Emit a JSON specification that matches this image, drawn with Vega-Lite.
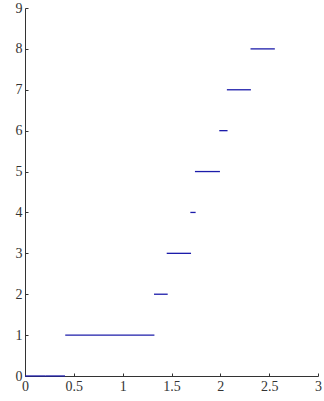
{
  "$schema": "https://vega.github.io/schema/vega-lite/v6.json",
  "width": 293,
  "height": 368,
  "autosize": {"type": "none"},
  "padding": {"left": 25, "top": 8, "right": 6, "bottom": 25},
  "background": "white",
  "config": {
    "view": {"stroke": null},
    "axis": {
      "grid": false,
      "domainColor": "#333333",
      "tickColor": "#333333",
      "labelColor": "#333333",
      "labelFont": "Liberation Sans Narrow",
      "labelFontSize": 14,
      "tickSize": -3,
      "domainWidth": 1,
      "tickWidth": 1
    }
  },
  "data": {
    "values": [
      {"x1": 0, "x2": 0.21, "y": 0},
      {"x1": 0.21, "x2": 0.41, "y": 0},
      {"x1": 0.412, "x2": 1.325, "y": 1},
      {"x1": 1.321, "x2": 1.461, "y": 2},
      {"x1": 1.451, "x2": 1.7, "y": 3},
      {"x1": 1.693, "x2": 1.747, "y": 4},
      {"x1": 1.74, "x2": 1.996, "y": 5},
      {"x1": 1.989, "x2": 2.074, "y": 6},
      {"x1": 2.067, "x2": 2.313, "y": 7},
      {"x1": 2.309, "x2": 2.558, "y": 8}
    ]
  },
  "mark": {"type": "rule", "color": "#1c1caa", "strokeWidth": 1.3},
  "encoding": {
    "x": {
      "field": "x1",
      "type": "quantitative",
      "scale": {"domain": [0, 3], "nice": false, "zero": false},
      "axis": {"title": null, "values": [0, 0.5, 1, 1.5, 2, 2.5, 3], "format": "~g", "labelPadding": 6, "labelFlush": false, "labelOverlap": false}
    },
    "x2": {"field": "x2"},
    "y": {
      "field": "y",
      "type": "quantitative",
      "scale": {"domain": [0, 9], "nice": false},
      "axis": {"title": null, "values": [0, 1, 2, 3, 4, 5, 6, 7, 8, 9], "format": "~g", "labelPadding": 6, "labelFlush": false, "labelOverlap": false}
    }
  }
}
